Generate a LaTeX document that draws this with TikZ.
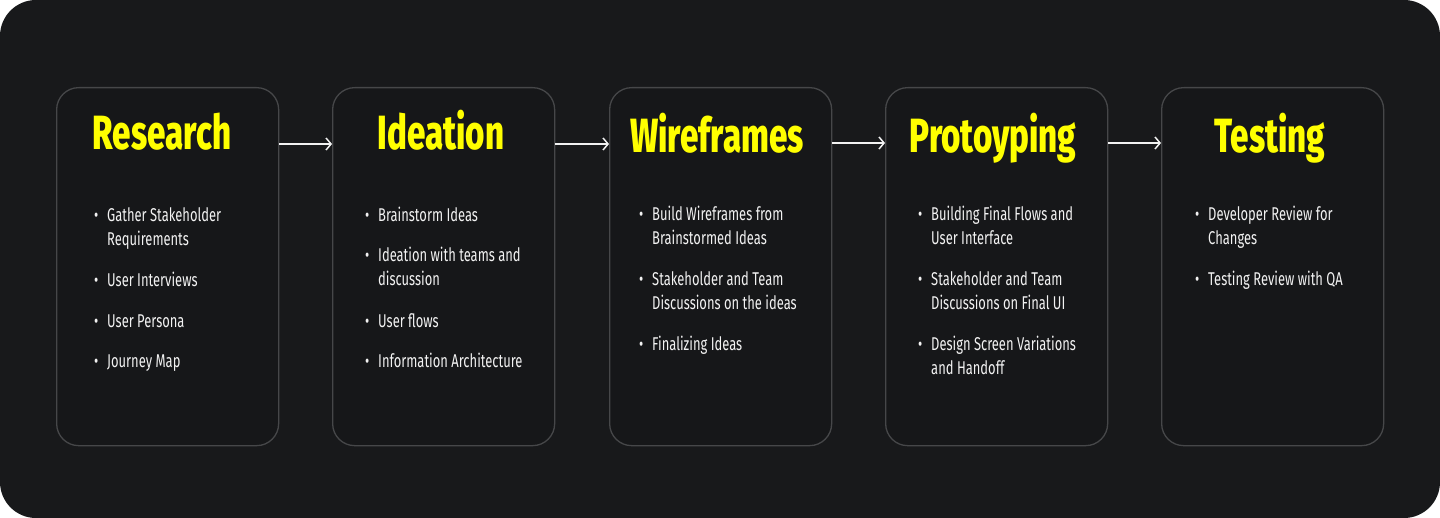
\documentclass[tikz,border=0pt]{standalone}
\usepackage{fontspec}
\usetikzlibrary{arrows.meta}
\setmainfont{Fira Sans}[FakeStretch=0.7]
\newfontfamily\titlefont{Fira Sans ExtraBold}[FakeStretch=0.69]
\definecolor{bgdark}{HTML}{18191B}
\definecolor{boxfill}{HTML}{161719}
\definecolor{boxline}{HTML}{464749}
\definecolor{ttlyellow}{HTML}{FFFF00}
\definecolor{txtwhite}{HTML}{F2F2F2}
\newcommand\bul{\leavevmode\llap{\textbullet\hspace{9pt}}}
\newcommand\twoline[2]{\parbox[t]{200pt}{\bul #1\\#2}}
\begin{document}
\begin{tikzpicture}[x=1pt,y=-1pt,
  box/.style={draw=boxline, line width=1.3pt, fill=boxfill, rounded corners=22pt,
    minimum width=222pt, minimum height=358pt, inner sep=0pt, anchor=north west},
  ttl/.style={text=ttlyellow, font=\titlefont\fontsize{48}{48}\selectfont,
    inner sep=0pt, anchor=base},
  itm/.style={text=txtwhite, font=\fontsize{18.5}{24}\selectfont, inner sep=0pt, anchor=base west},
  flow/.style={draw=txtwhite, line width=1.5pt, -{Straight Barb[length=5pt,width=12pt]}}]
\useasboundingbox (0,0) rectangle (1440,518);
\fill[white] (0,0) rectangle (1440,518);
\fill[bgdark, rounded corners=36pt] (0,0) rectangle (1440,518);

% boxes
\node[box] (b1) at (56,87) {};
\node[box] (b2) at (332,87) {};
\node[box] (b3) at (609,87) {};
\node[box] (b4) at (885,87) {};
\node[box] (b5) at (1161,87) {};

% titles
\node[ttl] (t1) at (162,150) {Research};
\node[ttl] (t2) at (441,150) {Ideation};
\node[ttl] (t3) at (717,153) {Wireframes};
\node[ttl] (t4) at (993,153) {Protoyping};
\node[ttl] (t5) at (1270,153) {Testing};

% Research
\node[itm] (r1) at (107,222) {\twoline{Gather Stakeholder}{Requirements}};
\node[itm] (r2) at (107,287) {\bul User Interviews};
\node[itm] (r3) at (107,328) {\bul User Persona};
\node[itm] (r4) at (107,368) {\bul Journey Map};

% Ideation
\node[itm] (i1) at (378,222) {\bul Brainstorm Ideas};
\node[itm] (i2) at (378,262) {\twoline{Ideation with teams and}{discussion}};
\node[itm] (i3) at (378,328) {\bul User flows};
\node[itm] (i4) at (378,368) {\bul Information Architecture};

% Wireframes
\node[itm] (w1) at (652,221) {\twoline{Build Wireframes from}{Brainstormed Ideas}};
\node[itm] (w2) at (652,286) {\twoline{Stakeholder and Team}{Discussions on the ideas}};
\node[itm] (w3) at (652,351) {\bul Finalizing Ideas};

% Protoyping
\node[itm] (p1) at (931,221) {\twoline{Building Final Flows and}{User Interface}};
\node[itm] (p2) at (931,286) {\twoline{Stakeholder and Team}{Discussions on Final UI}};
\node[itm] (p3) at (931,351) {\twoline{Design Screen Variations}{and Handoff}};

% Testing
\node[itm] (s1) at (1208,221) {\twoline{Developer Review for}{Changes}};
\node[itm] (s2) at (1208,286) {\bul Testing Review with QA};

% arrows
\draw[flow] ([yshift=-57pt]b1.north east) -- ([yshift=-57pt]b2.north west);
\draw[flow] ([yshift=-57pt]b2.north east) -- ([yshift=-57pt]b3.north west);
\draw[flow] ([yshift=-56pt]b3.north east) -- ([yshift=-56pt]b4.north west);
\draw[flow] ([yshift=-56pt]b4.north east) -- ([yshift=-56pt]b5.north west);
\end{tikzpicture}
\end{document}
